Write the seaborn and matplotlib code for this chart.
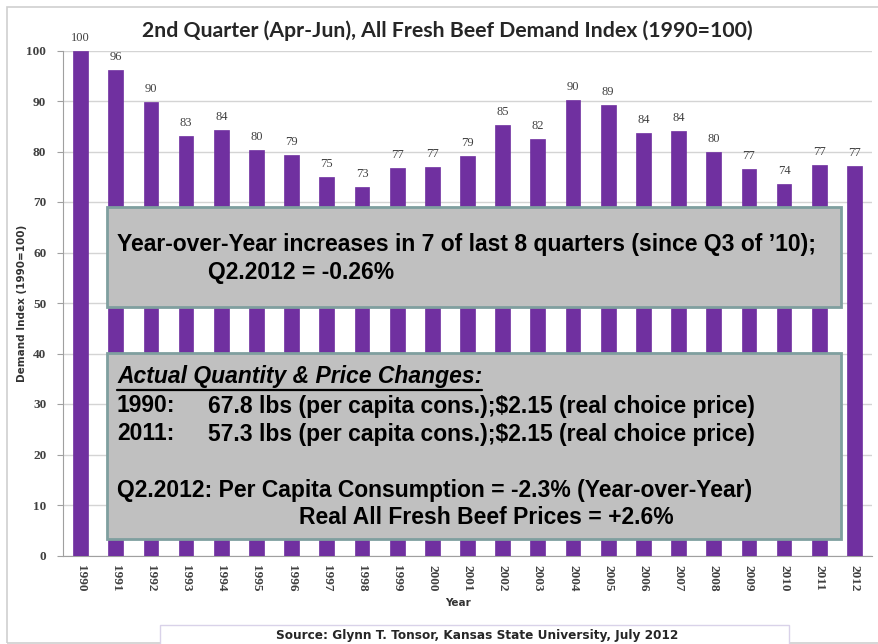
import numpy as np
import pandas as pd
import seaborn as sns
import matplotlib.pyplot as plt
from matplotlib.patches import Rectangle
from matplotlib.lines import Line2D

years = [str(y) for y in range(1990, 2013)]
index_values = [100, 96.2, 89.9, 83.0, 84.2, 80.3, 79.3, 74.9, 73.0, 76.8, 76.9,
                79.2, 85.3, 82.4, 90.2, 89.2, 83.7, 84.0, 79.9, 76.6, 73.6, 77.4, 77.2]
y_ticks = list(range(0, 101, 10))

title = '2nd Quarter (Apr-Jun), All Fresh Beef Demand Index (1990=100)'
source = 'Source: Glynn T. Tonsor, Kansas State University, July 2012'

W, H = 879, 644


def px(x, y):
    # pixel position in the slide -> figure fraction
    return x / W, 1 - y / H


sns.set_style('white')
plt.rcParams['font.family'] = ['Liberation Sans', 'DejaVu Sans']

fig = plt.figure(figsize=(W / 100, H / 100), dpi=100)
fig.patch.set_facecolor('white')

# slide frame
fig.add_artist(Rectangle(px(7, 643), (890 - 7) / W, (643 - 7) / H,
                         transform=fig.transFigure, facecolor='none',
                         edgecolor='#cfcfcf', lw=1.2))

x0, y0 = px(63, 555.5)
ax = fig.add_axes([x0, y0, (872 - 63) / W, (555.5 - 50.5) / H])

df = pd.DataFrame({'Year': years, 'Index': index_values})
sns.barplot(data=df, x='Year', y='Index', color='#7030a0', saturation=1,
            width=0.42, edgecolor='#7030a0', linewidth=0.5, ax=ax, zorder=3)

ax.set_ylim(0, 100)
ax.set_xlim(-0.5, len(years) - 0.5)
ax.set_yticks(y_ticks)
ax.set_yticklabels([str(t) for t in y_ticks], family='Liberation Serif',
                   fontweight='bold', fontsize=9.5, color='#404040')
ax.set_xticks(range(len(years)))
ax.set_xticklabels(years, rotation=270, family='Liberation Serif',
                   fontweight='bold', fontsize=9.5, color='#404040')
ax.set_xticks(np.arange(-0.5, len(years), 1), minor=True)
ax.tick_params(axis='x', which='major', length=0, pad=7)
ax.tick_params(axis='x', which='minor', length=4, color='#a0a0a0', width=0.8)
ax.tick_params(axis='y', length=4, color='#a0a0a0', width=0.8, pad=8, left=True)
ax.grid(axis='y', color='#d4d4d4', lw=1, zorder=0)
ax.set_axisbelow(True)
for s in ['top', 'right']:
    ax.spines[s].set_visible(False)
for s in ['left', 'bottom']:
    ax.spines[s].set_color('#a0a0a0')
    ax.spines[s].set_linewidth(0.8)

for i, v in enumerate(index_values):
    ax.annotate(f'{v:.0f}', (i, v), xytext=(0, 5), textcoords='offset points',
                ha='center', va='bottom', family='Liberation Serif',
                fontsize=9, color='#404040', annotation_clip=False)

ax.set_xlabel('Year', family='DejaVu Sans', fontweight='bold', fontsize=7.5,
              color='#333333', labelpad=4)
ax.xaxis.set_label_coords(0.488, -0.085)
ax.set_ylabel('Demand Index (1990=100)', family='DejaVu Sans', fontweight='bold',
              fontsize=7.5, color='#333333')
ax.yaxis.set_label_coords(-0.045, 0.5)

fig.text(*px(447, 31), title, family='Lato', fontweight='bold', fontsize=15.3,
         color='#262626', ha='center', va='center')

# annotation boxes
box_kw = dict(transform=fig.transFigure, facecolor='#c0c0c0',
              edgecolor='#7f9f9f', lw=2, zorder=5)
fig.add_artist(Rectangle(px(107, 307), (841 - 107) / W, (307 - 207) / H, **box_kw))
fig.add_artist(Rectangle(px(107, 539), (841 - 107) / W, (539 - 353) / H, **box_kw))

tkw = dict(fontweight='bold', fontsize=16.5, color='black', va='center', zorder=6)
fig.text(*px(117, 245), 'Year-over-Year increases in 7 of last 8 quarters (since Q3 of \u201910);', **tkw)
fig.text(*px(208, 272), 'Q2.2012 = -0.26%', **tkw)
head = fig.text(*px(117, 376), 'Actual Quantity & Price Changes:', style='italic', **tkw)
fig.text(*px(117, 406), '1990:', **tkw)
fig.text(*px(208, 406), '67.8 lbs (per capita cons.);$2.15 (real choice price)', **tkw)
fig.text(*px(117, 434), '2011:', **tkw)
fig.text(*px(208, 434), '57.3 lbs (per capita cons.);$2.15 (real choice price)', **tkw)
fig.text(*px(117, 491), 'Q2.2012: Per Capita Consumption = -2.3% (Year-over-Year)', **tkw)
fig.text(*px(299, 518), 'Real All Fresh Beef Prices = +2.6%', **tkw)

fig.canvas.draw()
bb = head.get_window_extent().transformed(fig.transFigure.inverted())
fig.add_artist(Line2D([bb.x0, bb.x1], [px(0, 389.5)[1]] * 2,
                      transform=fig.transFigure, color='black', lw=1.6, zorder=6))

# source box at the bottom
fig.add_artist(Rectangle(px(160, 650), (789 - 160) / W, (650 - 625) / H,
                         transform=fig.transFigure, facecolor='white',
                         edgecolor='#d9d2e9', lw=1))
fig.text(*px(477, 636), source, family='DejaVu Sans', fontweight='bold',
         fontsize=8.75, color='#262626', ha='center', va='center')

fig.savefig('out.png', dpi=100)
